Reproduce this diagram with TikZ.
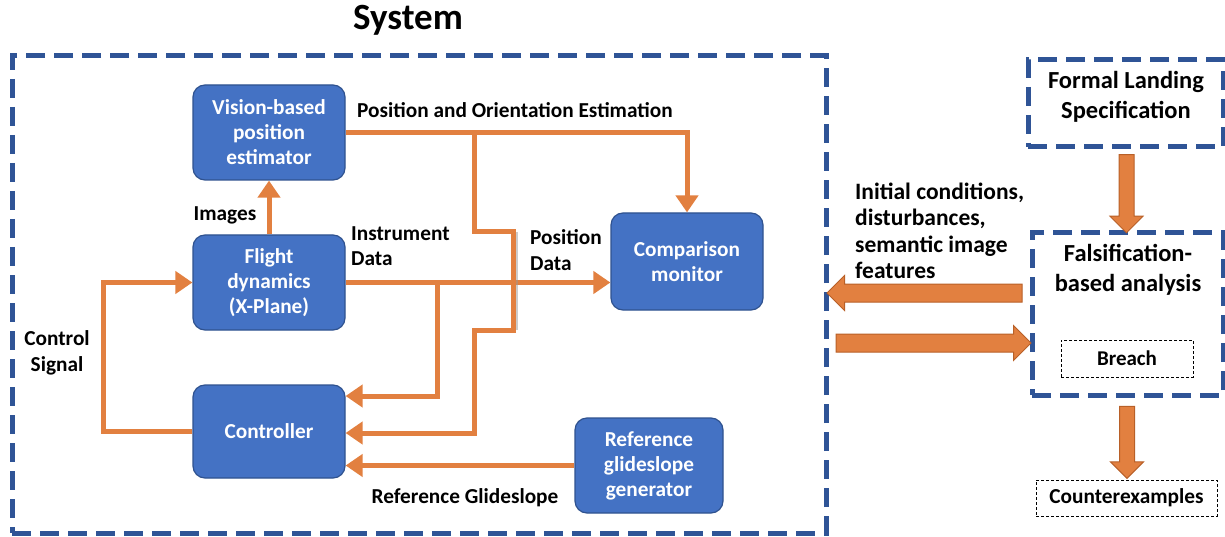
\documentclass[tikz,border=0pt]{standalone}
\usepackage{fontspec}
\setmainfont{Carlito}
\usetikzlibrary{arrows.meta,shapes.arrows,calc}
\definecolor{boxblue}{RGB}{68,114,196}
\definecolor{boxedge}{RGB}{47,82,143}
\definecolor{dashblue}{RGB}{47,84,150}
\definecolor{flowor}{RGB}{226,128,64}
\definecolor{flowedge}{RGB}{184,96,40}
\tikzset{
  blk/.style={draw=boxedge, line width=1.2pt, fill=boxblue, rounded corners=12pt,
    text=white, font=\fontsize{21.3}{25}\selectfont\bfseries, align=center, inner sep=0pt},
  flow/.style={draw=flowor, line width=5pt, -{Triangle[length=17pt,width=22pt]}},
  bigdash/.style={draw=dashblue, line width=5pt, dash pattern=on 19pt off 9pt},
  thindash/.style={draw=black, line width=0.7pt, dash pattern=on 3pt off 2pt},
  lab/.style={font=\fontsize{21.3}{25.5}\selectfont\bfseries, inner sep=0pt},
  fat/.style={single arrow, draw=flowedge, line width=1pt, fill=flowor,
    single arrow head extend=9pt, single arrow tip angle=90, inner sep=7.5pt}
}
\begin{document}
\begin{tikzpicture}[x=1pt,y=-1pt]
\useasboundingbox (0,0) rectangle (1225,537);
% title
\node[font=\fontsize{37}{40}\selectfont\bfseries, inner sep=0pt] (title) at (408,20) {System};
% system box
\node[bigdash, minimum width=814pt, minimum height=477pt, inner sep=0pt] (sys) at (419,294.5) {};
% blocks
\node[blk, minimum width=152pt, minimum height=95pt] (vis) at (269,132.5) {Vision-based\\position\\estimator};
\node[blk, minimum width=152pt, minimum height=95pt] (fly) at (269,282.5) {Flight\\dynamics\\(X-Plane)};
\node[blk, minimum width=152pt, minimum height=93pt] (ctrl) at (269,431.5) {Controller};
\node[blk, minimum width=152pt, minimum height=97pt] (cmp) at (687,261.5) {Comparison\\monitor};
\node[blk, minimum width=148pt, minimum height=95pt] (ref) at (649,465.5) {Reference\\glideslope\\generator};
% coordinates
\coordinate (b1) at (474,132.5);
\coordinate (b2) at (437,282.5);
\coordinate (cs) at (103,350);
\coordinate (j1) at (474,232);
\coordinate (j2) at (513,232);
\coordinate (j3) at (513,330);
\coordinate (j4) at (474,330);
% connectors
\draw[flow] (fly.north) -- (vis.south);
\draw[flow] (vis.east) -| (cmp.north);
\draw[flow] (fly.east) -- (fly.east -| cmp.west);
\draw[flow] (b2) |- ([yshift=35.5pt]ctrl.east);
\draw[draw=black!40, line width=3pt, opacity=0.5] ([xshift=3pt]j2) -- ([xshift=3pt]j3);
\draw[flow] (b1) -- (j1) -- (j2) -- (j3) -- (j4) |- ([yshift=-1.5pt]ctrl.east);
\draw[flow] (ref.west) -- (ref.west -| ctrl.east);
\draw[flow] (ctrl.west) -| (cs) |- (fly.west);
% labels
\node[lab] (limg) at (225,215) {Images};
\node[lab, anchor=west] (lpos) at (357,110) {Position and Orientation Estimation};
\node[lab, anchor=west, align=left] (linst) at (351,246) {Instrument\\Data};
\node[lab, anchor=west, align=left] (lpd) at (530,250) {Position\\Data};
\node[lab, align=center] (lcs) at (57,353) {Control\\Signal};
\node[lab] (lref) at (465,498) {Reference Glideslope};
\node[lab, anchor=west, align=left, font=\fontsize{23.5}{26.5}\selectfont\bfseries] (linit) at (855,231) {Initial conditions,\\disturbances,\\semantic image\\features};
% right side
\node[bigdash, minimum width=195pt, minimum height=87pt, inner sep=0pt] (spec) at (1125.5,103.5) {};
\node[font=\fontsize{24.5}{30}\selectfont\bfseries, align=center, inner sep=0pt] (spectxt) at (1126,97) {Formal Landing\\Specification};
\node[bigdash, minimum width=191pt, minimum height=162pt, inner sep=0pt] (fals) at (1127.5,314) {};
\node[font=\fontsize{24.5}{30}\selectfont\bfseries, align=center, inner sep=0pt] (falstxt) at (1128,270) {Falsification-\\based analysis};
\node[thindash, minimum width=132pt, minimum height=37pt, inner sep=0pt, font=\fontsize{21}{24}\selectfont\bfseries] (breach) at (1127,358.5) {Breach};
\node[thindash, minimum width=181pt, minimum height=36pt, inner sep=0pt, font=\fontsize{21.3}{24}\selectfont\bfseries] (cex) at (1126.5,498) {Counterexamples};
% fat arrows
\node[fat, inner sep=7pt, minimum height=78pt, shape border rotate=270] (fa1) at ($(spec.south)!0.5!(fals.north)$) {};
\node[fat, inner sep=8.5pt, single arrow head extend=8.5pt, minimum height=195pt, shape border rotate=180] (fa2) at ($(sys.east |- 0,293)!0.5!(fals.west |- 0,293)$) {};
\node[fat, inner sep=8.5pt, single arrow head extend=8.5pt, minimum height=195pt, shape border rotate=0] (fa3) at ($(sys.east |- 0,343)!0.5!(fals.west |- 0,343)$) {};
\node[fat, inner sep=7pt, minimum height=72pt, shape border rotate=270] (fa4) at ($(fals.south)!0.5!(cex.north)$) {};
\end{tikzpicture}
\end{document}
